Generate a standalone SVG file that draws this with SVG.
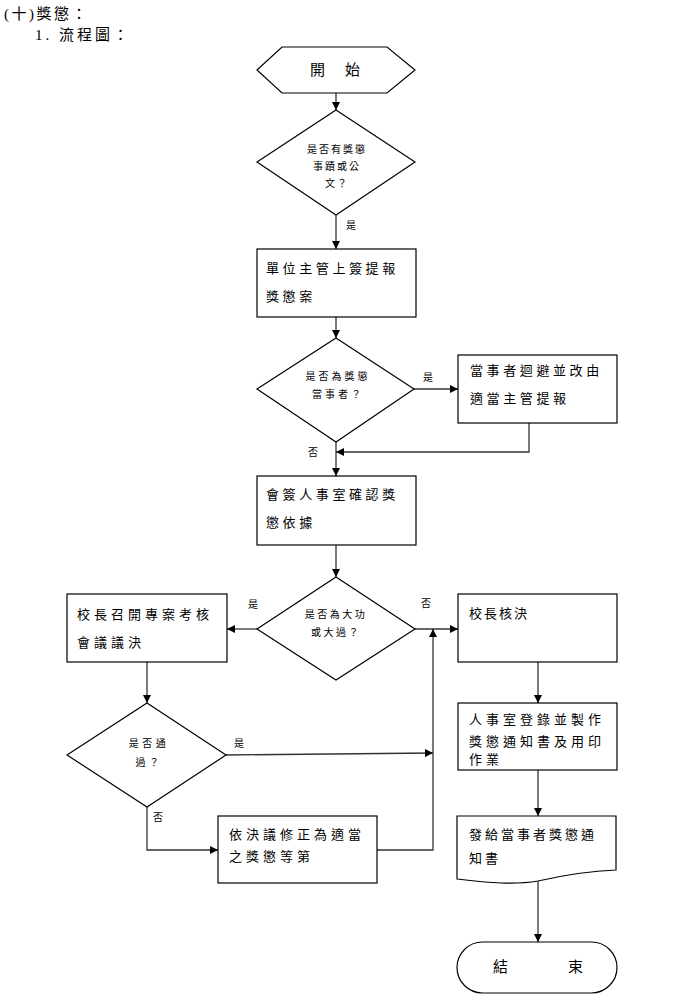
<svg xmlns="http://www.w3.org/2000/svg" width="679" height="1000" viewBox="0 0 679 1000">
<style>
.s{fill:#fff;stroke:#000;stroke-width:1.2}
.c{fill:none;stroke:#333;stroke-width:1.3}
text{font-family:"Liberation Serif","Noto Sans CJK TC",serif;fill:#000}
.b{font-size:13px;letter-spacing:3.6px}
.d{font-size:10px;letter-spacing:2px;text-anchor:middle}
.l{font-size:10px}
.h{font-size:15px}
</style>
<defs>
<marker id="a" viewBox="0 0 10 10" refX="10" refY="5" markerWidth="8" markerHeight="8" markerUnits="userSpaceOnUse" orient="auto"><path d="M0,0L10,5L0,10z" fill="#000"/></marker>
</defs>
<g id="title">
<text x="4" y="19" class="h" style="letter-spacing:2.5px">(十)獎懲：</text>
<text x="35" y="40" class="h" style="letter-spacing:3px">1. 流程圖：</text>
</g>
<g id="connectors">
<path class="c" d="M336,93V110" marker-end="url(#a)"/>
<path class="c" d="M336,215V249" marker-end="url(#a)"/>
<path class="c" d="M336,317V338" marker-end="url(#a)"/>
<path class="c" d="M414,389H458" marker-end="url(#a)"/>
<path class="c" d="M529,423V452H336" marker-end="url(#a)"/>
<path class="c" d="M336,442V476" marker-end="url(#a)"/>
<path class="c" d="M336,545V577" marker-end="url(#a)"/>
<path class="c" d="M257,629H227" marker-end="url(#a)"/>
<path class="c" d="M415,629H458" marker-end="url(#a)"/>
<path class="c" d="M538,662V703" marker-end="url(#a)"/>
<path class="c" d="M147,662V703" marker-end="url(#a)"/>
<path class="c" d="M226,755L433,753" marker-end="url(#a)"/>
<path class="c" d="M147,807V850H218" marker-end="url(#a)"/>
<path class="c" d="M377,850H433V629" marker-end="url(#a)"/>
<path class="c" d="M538,770V816" marker-end="url(#a)"/>
<path class="c" d="M538,881V942" marker-end="url(#a)"/>
<text x="346" y="229" class="l">是</text>
<text x="423" y="381" class="l">是</text>
<text x="308" y="456" class="l">否</text>
<text x="248" y="608" class="l">是</text>
<text x="421" y="607" class="l">否</text>
<text x="234" y="747" class="l">是</text>
<text x="153" y="821" class="l">否</text>
</g>
<g id="start">
<polygon class="s" points="257,70 282,47 387,47 415,70 387,93 282,93"/>
<text x="310" y="75" class="h">開</text>
<text x="345" y="75" class="h">始</text>
</g>
<g id="d1">
<polygon class="s" points="336,110 415,162 336,215 257,162"/>
<text x="337" y="153" class="d">是否有獎懲</text>
<text x="337" y="170" class="d">事蹟或公</text>
<text x="337" y="187" class="d">文？</text>
</g>
<g id="box1">
<rect class="s" x="257" y="249" width="159" height="68"/>
<text x="266" y="273" class="b">單位主管上簽提報</text>
<text x="266" y="301" class="b">獎懲案</text>
</g>
<g id="d2">
<polygon class="s" points="336,338 414,389 336,442 257,389"/>
<text x="338" y="380" class="d" style="letter-spacing:3px">是否為獎懲</text>
<text x="338" y="398" class="d" style="letter-spacing:3px">當事者？</text>
</g>
<g id="box2">
<rect class="s" x="458" y="355" width="159" height="68"/>
<text x="470" y="375" class="b">當事者迴避並改由</text>
<text x="470" y="403" class="b">適當主管提報</text>
</g>
<g id="box3">
<rect class="s" x="257" y="476" width="159" height="69"/>
<text x="266" y="499" class="b">會簽人事室確認獎</text>
<text x="266" y="527" class="b">懲依據</text>
</g>
<g id="d3">
<polygon class="s" points="336,577 415,629 336,680 257,629"/>
<text x="336" y="618" class="d" style="letter-spacing:2.5px">是否為大功</text>
<text x="336" y="636" class="d" style="letter-spacing:2.5px">或大過？</text>
</g>
<g id="box4">
<rect class="s" x="67" y="594" width="160" height="68"/>
<text x="77" y="619" class="b" style="letter-spacing:4px">校長召開專案考核</text>
<text x="77" y="647" class="b" style="letter-spacing:4px">會議議決</text>
</g>
<g id="box5">
<rect class="s" x="458" y="594" width="159" height="68"/>
<text x="469" y="618" class="b" style="letter-spacing:2px">校長核決</text>
</g>
<g id="box6">
<rect class="s" x="458" y="703" width="159" height="67"/>
<text x="469" y="724" class="b" style="letter-spacing:4px">人事室登錄並製作</text>
<text x="469" y="746" class="b" style="letter-spacing:4px">獎懲通知書及用印</text>
<text x="469" y="764" class="b" style="letter-spacing:4px">作業</text>
</g>
<g id="d4">
<polygon class="s" points="147,703 226,755 147,807 67,755"/>
<text x="149" y="747" class="d" style="letter-spacing:3.5px">是否通</text>
<text x="149" y="766" class="d" style="letter-spacing:3.5px">過？</text>
</g>
<g id="box7">
<rect class="s" x="218" y="816" width="159" height="67"/>
<text x="229" y="839" class="b" style="letter-spacing:4px">依決議修正為適當</text>
<text x="229" y="861" class="b" style="letter-spacing:4px">之獎懲等第</text>
</g>
<g id="doc">
<path class="s" d="M457,816H616V870C590,871 560,876 538,881C515,885 490,883 457,879Z"/>
<text x="469" y="839" class="b" style="letter-spacing:3px">發給當事者獎懲通</text>
<text x="469" y="863" class="b" style="letter-spacing:3px">知書</text>
</g>
<g id="end">
<rect class="s" x="457" y="942" width="160" height="51" rx="25.5" ry="25.5"/>
<text x="493" y="972" class="h">結</text>
<text x="568" y="972" class="h">束</text>
</g>
</svg>
